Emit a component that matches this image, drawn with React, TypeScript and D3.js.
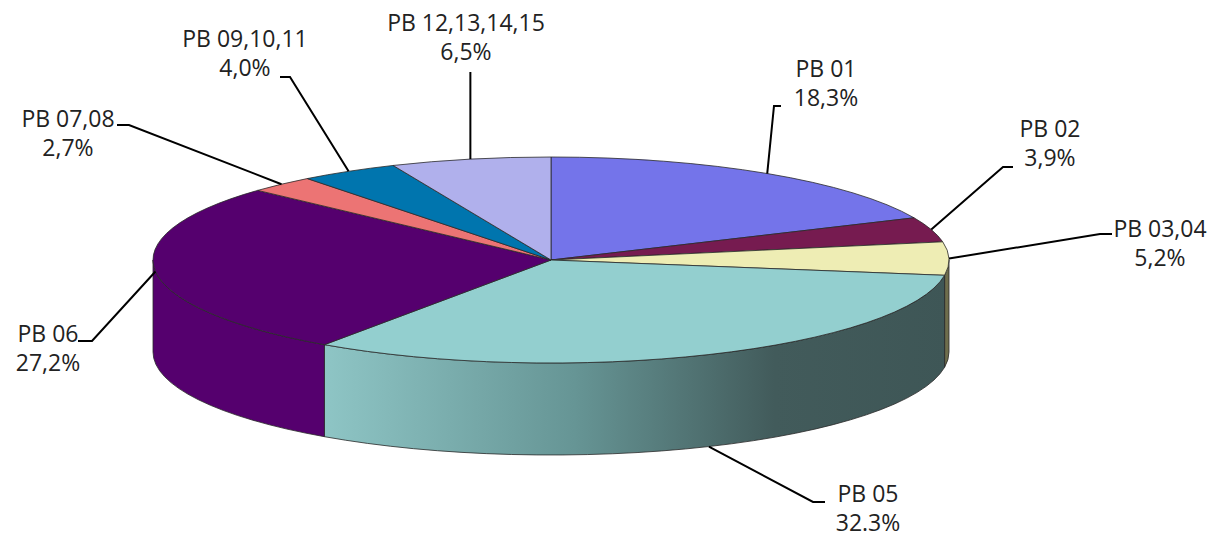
import * as React from 'react';
import * as d3 from 'd3';

// slice data, clockwise from 12 o'clock
const categories = ['PB 01', 'PB 02', 'PB 03,04', 'PB 05', 'PB 06', 'PB 07,08', 'PB 09,10,11', 'PB 12,13,14,15'];
const values = [18.3, 3.9, 5.2, 32.3, 27.2, 2.7, 4.0, 6.5];
const valueLabels = ['18,3%', '3,9%', '5,2%', '32.3%', '27,2%', '2,7%', '4,0%', '6,5%'];

const topColors = ['#7474EA', '#761B50', '#EEEDB4', '#93CFCF', '#55006E', '#EC7474', '#0075AE', '#B0B0EC'];
const sideColors = ['#4f4fa0', '#4a1032', '#6e6d4c', 'url(#side05)', '#55006E', '#a04f4f', '#005278', '#7a7aa4'];

// label layout: text centre, leader elbow and horizontal end
const labelLayout = [
  { tx: 826, ty: 68, ex: 774, ey: 106, hx: 781, bottom: false },
  { tx: 1050, ty: 128, ex: 1003, ey: 167, hx: 1013, bottom: false },
  { tx: 1160, ty: 228, ex: 1100, ey: 234, hx: 1112, bottom: false },
  { tx: 868, ty: 493, ex: 813, ey: 502, hx: 825, bottom: true },
  { tx: 48, ty: 333, ex: 92, ey: 341, hx: 78, bottom: false },
  { tx: 68, ty: 118, ex: 129, ey: 125, hx: 117, bottom: false },
  { tx: 245, ty: 38, ex: 290, ey: 77, hx: 280, bottom: false },
  { tx: 466, ty: 22, ex: NaN, ey: 72, hx: NaN, bottom: false },
];

const W = 1223;
const H = 540;
const cx = 551;
const cy = 260;
const rx = 398;
const ry = 103;
const depth = 92;

export default function App() {
  const k = ry / rx;
  const D = depth / k;

  const pie = d3.pie<number>().sort(null).value((d) => d);
  const arcs = pie(values);
  const arc = d3.arc<d3.PieArcDatum<number>>().innerRadius(0).outerRadius(rx);

  // front wall of a slice (only the part between 3 and 9 o'clock is visible)
  const sidePath = (a: d3.PieArcDatum<number>) => {
    const a0 = Math.max(a.startAngle, Math.PI / 2);
    const a1 = Math.min(a.endAngle, (3 * Math.PI) / 2);
    if (a1 <= a0) return null;
    const p = d3.path();
    p.moveTo(rx * Math.sin(a0), -rx * Math.cos(a0));
    p.arc(0, 0, rx, a0 - Math.PI / 2, a1 - Math.PI / 2, false);
    p.lineTo(rx * Math.sin(a1), -rx * Math.cos(a1) + D);
    p.arc(0, D, rx, a1 - Math.PI / 2, a0 - Math.PI / 2, true);
    p.closePath();
    return p.toString();
  };

  return (
    <svg width={W} height={H} style={{ position: 'absolute', left: 0, top: 0, background: '#fff' }}>
      <defs>
        <linearGradient id="side05" gradientUnits="userSpaceOnUse" x1={-226} x2={398} y1={0} y2={0}>
          <stop offset="0" stopColor="#8EC5C5" />
          <stop offset="0.4" stopColor="#669595" />
          <stop offset="0.72" stopColor="#425B5B" />
          <stop offset="1" stopColor="#3E5656" />
        </linearGradient>
      </defs>
      <g transform={`translate(${cx},${cy}) scale(1,${k})`}>
        {arcs.map((a, i) => {
          const d = sidePath(a);
          return d ? (
            <path key={'s' + i} d={d} fill={sideColors[i]} stroke="#2a2a2a" strokeWidth={0.8}
              vectorEffect="non-scaling-stroke" />
          ) : null;
        })}
        {arcs.map((a, i) => (
          <path key={'t' + i} d={arc(a) || ''} fill={topColors[i]} stroke="#2a2a2a" strokeWidth={0.8}
            vectorEffect="non-scaling-stroke" />
        ))}
      </g>
      {arcs.map((a, i) => {
        const m = (a.startAngle + a.endAngle) / 2;
        const L = labelLayout[i];
        const px = cx + rx * Math.sin(m);
        const py = cy - ry * Math.cos(m) + (L.bottom ? depth : 0);
        const ex = isNaN(L.ex) ? px : L.ex;
        const hx = isNaN(L.hx) ? px : L.hx;
        return (
          <g key={'l' + i}>
            <polyline points={`${px},${py} ${ex},${L.ey} ${hx},${L.ey}`} fill="none" stroke="#000" strokeWidth={2} />
            <text x={L.tx} y={L.ty} textAnchor="middle" dominantBaseline="central"
              fontFamily="'Open Sans', sans-serif" fontSize={23} fill="#222">
              {categories[i]}
            </text>
            <text x={L.tx} y={L.ty + 29} textAnchor="middle" dominantBaseline="central"
              fontFamily="'Open Sans', sans-serif" fontSize={23} fill="#222">
              {valueLabels[i]}
            </text>
          </g>
        );
      })}
    </svg>
  );
}
